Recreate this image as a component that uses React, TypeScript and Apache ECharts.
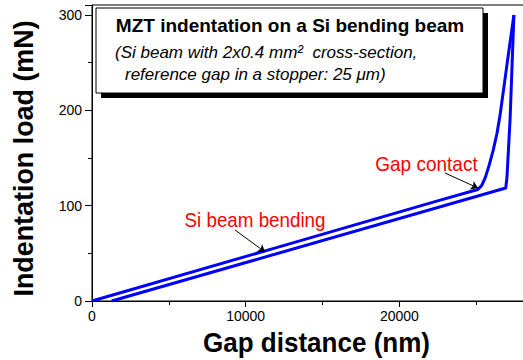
import React, { useEffect, useRef } from "react";
import * as echarts from "echarts";

const FONT = "'Liberation Sans', Arial, sans-serif";

// Loading branch (starts at origin)
const loadX = [0, 12000, 22600, 25100, 25350, 25600, 25850, 26100, 26350, 26550, 27000, 27450];
const loadY = [0, 56, 105.5, 117, 121, 130, 143, 158, 176, 195, 248, 300];
// Unloading branch
const unloadX = [27450, 27200, 27000, 26920, 1280];
const unloadY = [300, 190, 130, 118.5, 0];

// Annotation arrows (data coordinates): [fromX, fromY, toX, toY]
const gapArrow = [22966, 134.3, 25113, 118.5];
const bendArrow = [9304, 74.5, 11255, 51.4];

const titleLines = [
  "MZT indentation on a Si bending beam",
  "(Si beam with 2x0.4 mm\u00B2  cross-section,",
  "reference gap in a stopper: 25 \u03BCm)",
];
const xName = "Gap distance (nm)";
const yName = "Indentation load (mN)";

export default function App() {
  const ref = useRef<HTMLDivElement>(null);
  useEffect(() => {
    if (!ref.current) return;
    const chart = echarts.init(ref.current, null, { renderer: "svg" });
    const axisCommon = {
      type: "value" as const,
      axisLine: { show: true, lineStyle: { color: "#000", width: 1 } },
      axisTick: { show: true, inside: false, length: 6, lineStyle: { color: "#000" } },
      minorTick: { show: true, splitNumber: 2, length: 4, lineStyle: { color: "#000" } },
      splitLine: { show: false },
      minorSplitLine: { show: false },
    };
    const arrowLine = (a: number[]) => [
      { coord: [a[0], a[1]], symbol: "none" },
      { coord: [a[2], a[3]], symbol: "arrow" },
    ];
    chart.setOption({
      animation: false,
      textStyle: { fontFamily: FONT },
      grid: {
        left: 92,
        top: 5,
        width: 436.5,
        height: 296,
        containLabel: false,
        outerBoundsMode: "none",
        show: true,
        borderColor: "#000",
        borderWidth: 1,
        backgroundColor: "transparent",
      },
      xAxis: {
        ...axisCommon,
        min: 0,
        max: 28400,
        interval: 10000,
        axisLabel: {
          color: "#000",
          fontSize: 14,
          margin: 8,
          fontFamily: FONT,
          showMaxLabel: false,
          formatter: (v: number) => String(v),
        },
      },
      yAxis: {
        ...axisCommon,
        min: 0,
        max: 310.5,
        interval: 100,
        axisTick: { show: true, inside: false, length: 7, lineStyle: { color: "#000" } },
        axisLabel: {
          color: "#000",
          fontSize: 14,
          margin: 10,
          fontFamily: FONT,
          showMaxLabel: false,
          formatter: (v: number) => String(v),
        },
      },
      series: [
        {
          type: "line",
          data: loadX.map((x, i) => [x, loadY[i]]),
          showSymbol: false,
          symbol: "none",
          lineStyle: { color: "#0000ff", width: 3 },
          itemStyle: { color: "#0000ff" },
          markLine: {
            silent: true,
            animation: false,
            symbol: ["none", "arrow"],
            symbolSize: 7,
            label: { show: false },
            lineStyle: { color: "#000", width: 1, type: "solid" },
            data: [arrowLine(gapArrow), arrowLine(bendArrow)],
          },
        },
        {
          type: "line",
          data: unloadX.map((x, i) => [x, unloadY[i]]),
          showSymbol: false,
          symbol: "none",
          lineStyle: { color: "#0000ff", width: 3 },
          itemStyle: { color: "#0000ff" },
        },
      ],
      graphic: [
        { type: "rect", z: 100, shape: { x: 101, y: 13, width: 387, height: 85 }, style: { fill: "#000" } },
        {
          type: "rect",
          z: 101,
          shape: { x: 96, y: 8, width: 387, height: 85 },
          style: { fill: "#fff", stroke: "#000", lineWidth: 1 },
        },
        {
          type: "text",
          z: 102,
          x: 290,
          y: 25,
          style: { text: titleLines[0], font: `bold 19px ${FONT}`, fill: "#000", align: "center", verticalAlign: "middle" },
        },
        {
          type: "text",
          z: 102,
          x: 115,
          y: 52,
          style: { text: titleLines[1], font: `italic 17px ${FONT}`, fill: "#000", align: "left", verticalAlign: "middle" },
        },
        {
          type: "text",
          z: 102,
          x: 125,
          y: 74,
          style: { text: titleLines[2], font: `italic 17px ${FONT}`, fill: "#000", align: "left", verticalAlign: "middle" },
        },
        {
          type: "text",
          z: 102,
          x: 426.5,
          y: 164,
          scaleX: 0.95,
          style: { text: "Gap contact", font: `20px ${FONT}`, fill: "#ff0000", align: "center", verticalAlign: "middle" },
        },
        {
          type: "text",
          z: 102,
          x: 255,
          y: 219.5,
          scaleX: 0.94,
          style: { text: "Si beam bending", font: `20px ${FONT}`, fill: "#ff0000", align: "center", verticalAlign: "middle" },
        },
        {
          type: "text",
          z: 102,
          x: 316.5,
          y: 343,
          scaleX: 0.93,
          style: { text: xName, font: `bold 28px ${FONT}`, fill: "#000", align: "center", verticalAlign: "middle" },
        },
        {
          type: "text",
          z: 102,
          x: 23,
          y: 158.5,
          rotation: Math.PI / 2,
          scaleX: 0.96,
          style: { text: yName, font: `bold 28px ${FONT}`, fill: "#000", align: "center", verticalAlign: "middle" },
        },
      ],
    });
    return () => chart.dispose();
  }, []);
  return <div ref={ref} style={{ position: "fixed", left: 0, top: 0, width: 523, height: 360, background: "#fff" }} />;
}
